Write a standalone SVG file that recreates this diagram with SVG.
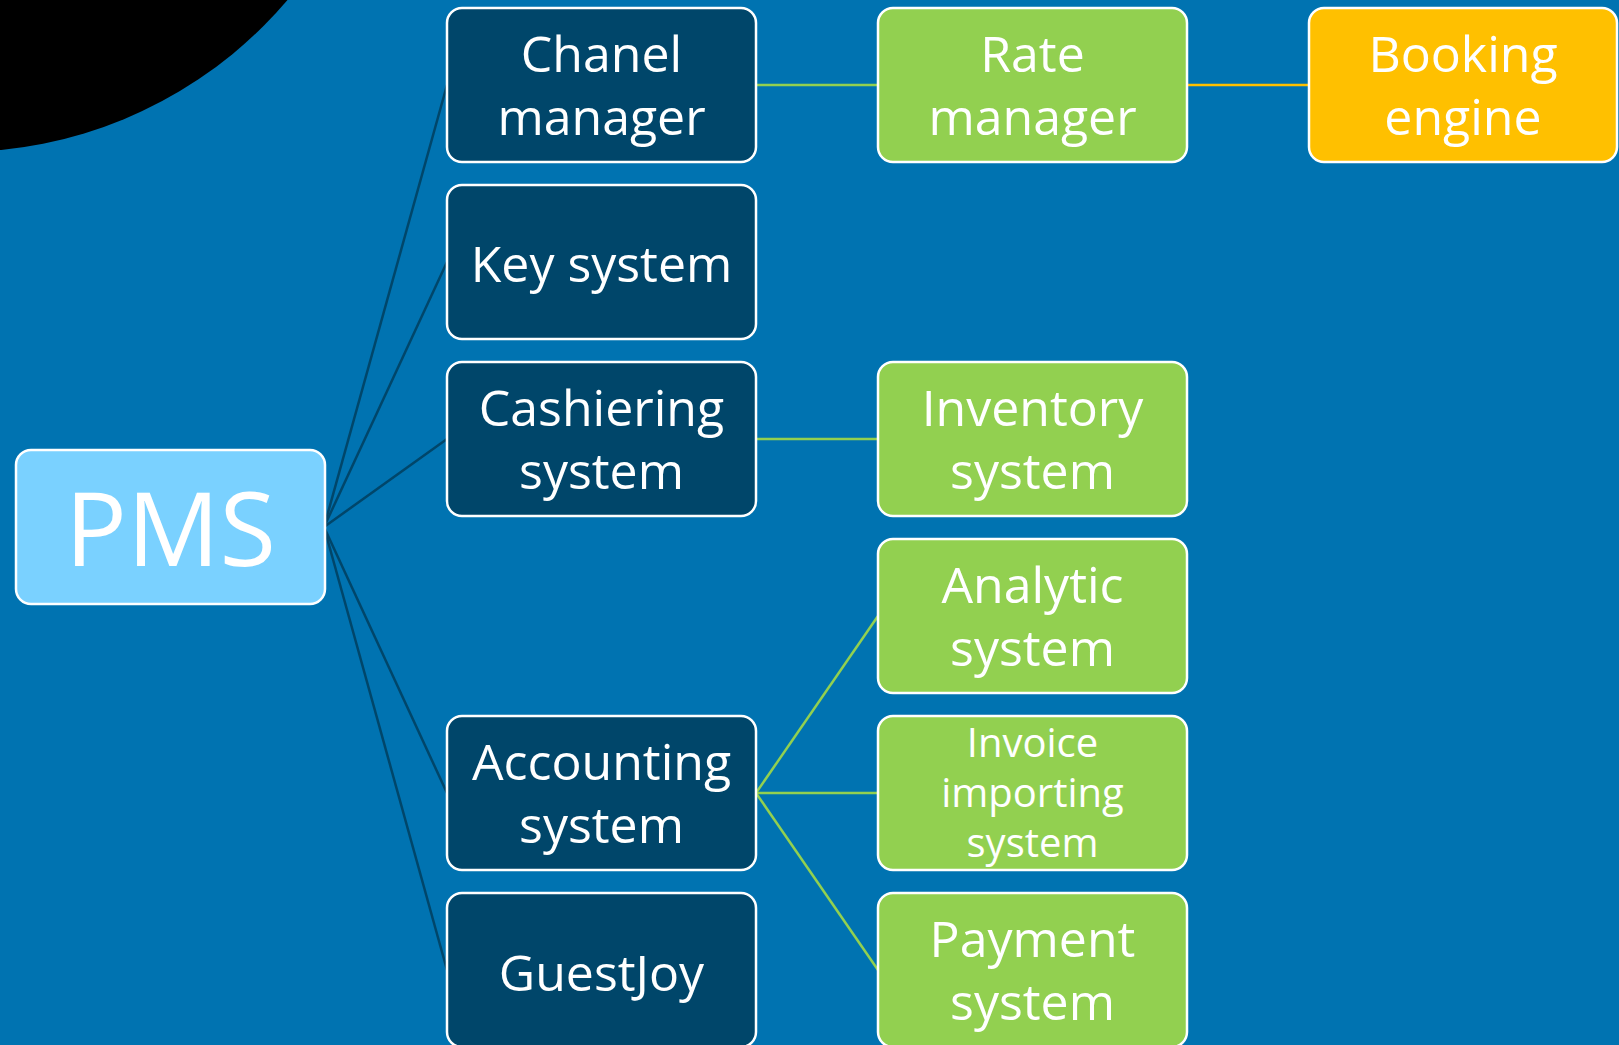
<svg xmlns="http://www.w3.org/2000/svg" width="1619" height="1045" viewBox="0 0 1619 1045">
<style>
.bg{fill:#0073B1}
.box{stroke:#FFFFFF;stroke-width:2.5}
.dark{fill:#00466A}
.green{fill:#92D050}
.orange{fill:#FFC000}
.pms{fill:#7AD1FF}
.t{font-family:"Open Sans","Noto Sans","Liberation Sans",sans-serif;fill:#FFFFFF;text-anchor:middle;font-size:50px}
.ts{font-size:40px}
.tb{font-size:103px}
.cd{stroke:#00466A;stroke-width:2.5;fill:none}
.cg{stroke:#92D050;stroke-width:2.5;fill:none}
.co{stroke:#FFC000;stroke-width:2.5;fill:none}
</style>
<rect class="bg" x="0" y="0" width="1619" height="1045"/>
<circle cx="-41" cy="-279" r="431" fill="#000000"/>
<g id="connectors">
<line class="cd" x1="324" y1="527" x2="447" y2="85"/>
<line class="cd" x1="324" y1="527" x2="447" y2="262"/>
<line class="cd" x1="324" y1="527" x2="447" y2="439"/>
<line class="cd" x1="324" y1="527" x2="447" y2="793"/>
<line class="cd" x1="324" y1="527" x2="447" y2="970"/>
<line class="cg" x1="756" y1="85" x2="878" y2="85"/>
<line class="cg" x1="756" y1="439" x2="878" y2="439"/>
<line class="cg" x1="756" y1="793" x2="878" y2="616"/>
<line class="cg" x1="756" y1="793" x2="878" y2="793"/>
<line class="cg" x1="756" y1="793" x2="878" y2="970"/>
<line class="co" x1="1186" y1="85" x2="1309" y2="85"/>
</g>
<g id="pms">
<rect class="box pms" x="16" y="450" width="309" height="154" rx="15"/>
<text class="t tb" x="170.5" y="566">PMS</text>
</g>
<g id="chanel-manager">
<rect class="box dark" x="447" y="8" width="309" height="154" rx="15"/>
<text class="t" x="601.5" y="72">Chanel</text>
<text class="t" x="601.5" y="135">manager</text>
</g>
<g id="key-system">
<rect class="box dark" x="447" y="185" width="309" height="154" rx="15"/>
<text class="t" x="601.5" y="282">Key system</text>
</g>
<g id="cashiering-system">
<rect class="box dark" x="447" y="362" width="309" height="154" rx="15"/>
<text class="t" x="601.5" y="426">Cashiering</text>
<text class="t" x="601.5" y="489">system</text>
</g>
<g id="accounting-system">
<rect class="box dark" x="447" y="716" width="309" height="154" rx="15"/>
<text class="t" x="601.5" y="780">Accounting</text>
<text class="t" x="601.5" y="843">system</text>
</g>
<g id="guestjoy">
<rect class="box dark" x="447" y="893" width="309" height="154" rx="15"/>
<text class="t" x="601.5" y="991">GuestJoy</text>
</g>
<g id="rate-manager">
<rect class="box green" x="878" y="8" width="309" height="154" rx="15"/>
<text class="t" x="1032.5" y="72">Rate</text>
<text class="t" x="1032.5" y="135">manager</text>
</g>
<g id="inventory-system">
<rect class="box green" x="878" y="362" width="309" height="154" rx="15"/>
<text class="t" x="1032.5" y="426">Inventory</text>
<text class="t" x="1032.5" y="489">system</text>
</g>
<g id="analytic-system">
<rect class="box green" x="878" y="539" width="309" height="154" rx="15"/>
<text class="t" x="1032.5" y="603">Analytic</text>
<text class="t" x="1032.5" y="666">system</text>
</g>
<g id="invoice-importing-system">
<rect class="box green" x="878" y="716" width="309" height="154" rx="15"/>
<text class="t ts" x="1032.5" y="757">Invoice</text>
<text class="t ts" x="1032.5" y="807">importing</text>
<text class="t ts" x="1032.5" y="857">system</text>
</g>
<g id="payment-system">
<rect class="box green" x="878" y="893" width="309" height="154" rx="15"/>
<text class="t" x="1032.5" y="957">Payment</text>
<text class="t" x="1032.5" y="1020">system</text>
</g>
<g id="booking-engine">
<rect class="box orange" x="1309" y="8" width="308" height="154" rx="15"/>
<text class="t" x="1463" y="72">Booking</text>
<text class="t" x="1463" y="135">engine</text>
</g>
</svg>
